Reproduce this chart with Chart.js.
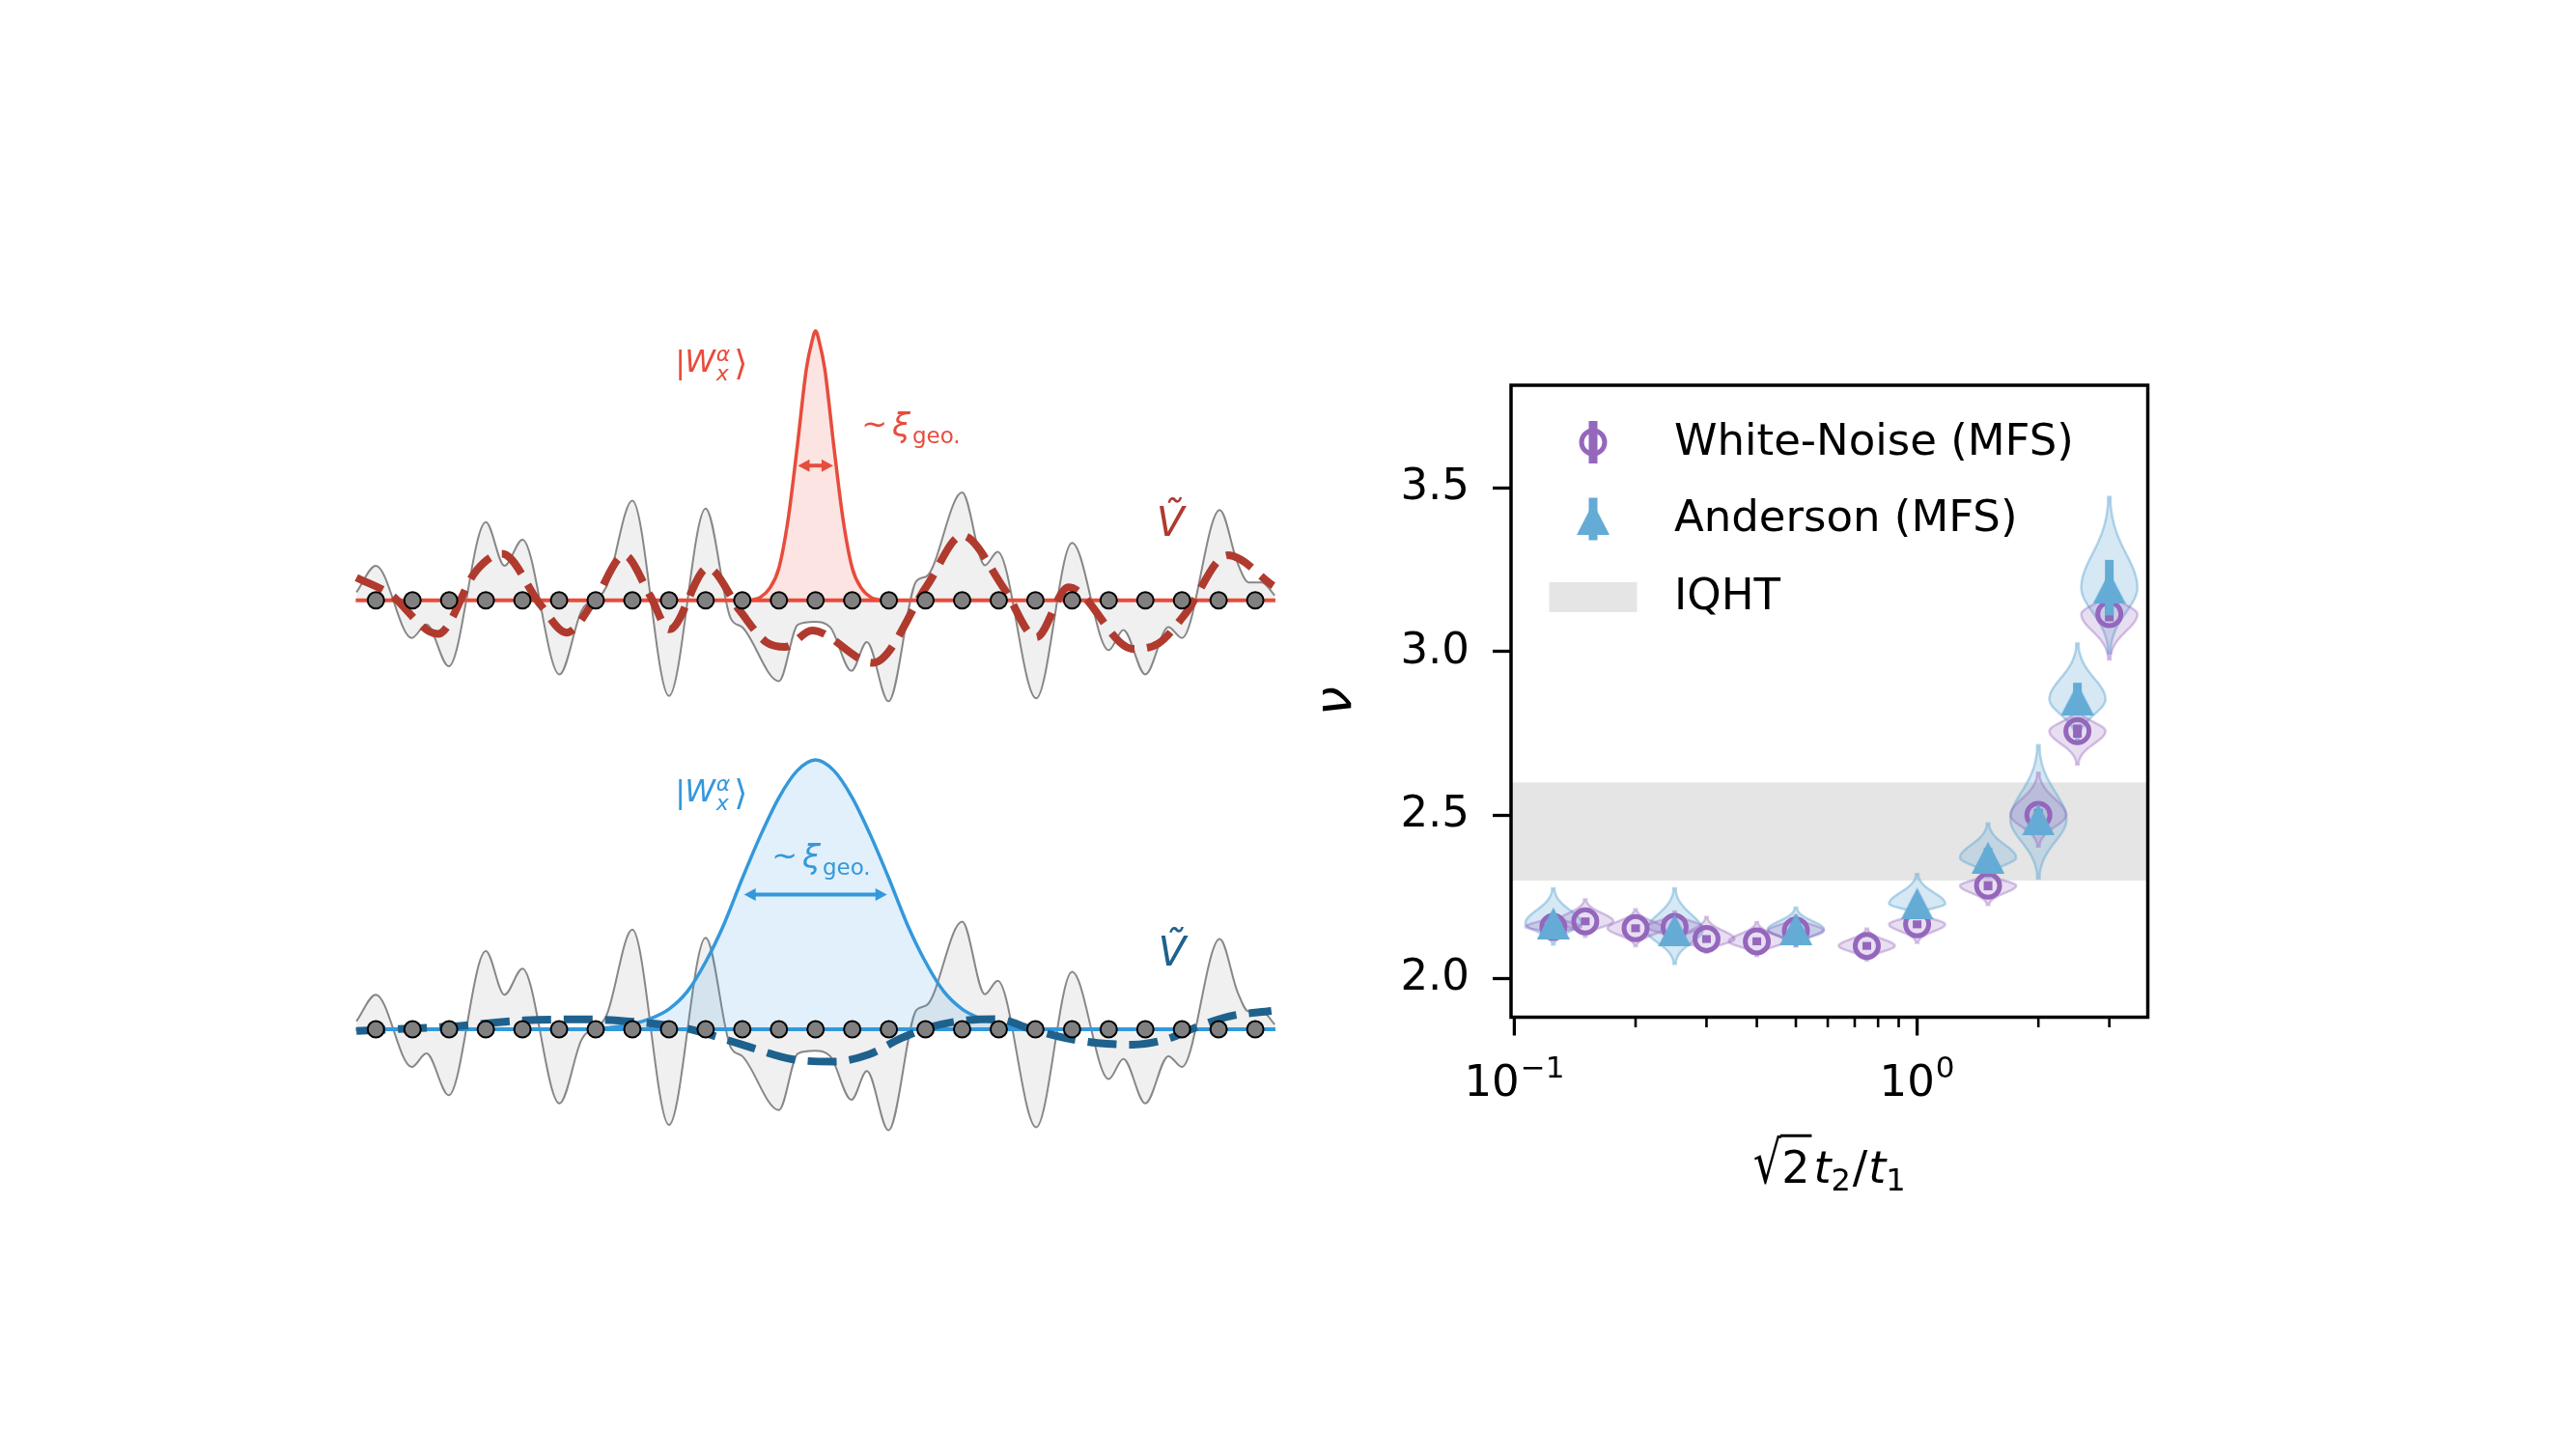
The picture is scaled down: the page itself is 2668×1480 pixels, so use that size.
<!DOCTYPE html>
<html><head><meta charset="utf-8">
<script src="https://cdn.jsdelivr.net/npm/chart.js"></script>
<style>
html,body{margin:0;padding:0;background:#fff;}
body{width:2668px;height:1480px;position:relative;overflow:hidden;}
canvas{position:absolute;}
</style></head><body>
<canvas id="panelTop" width="964" height="474" style="left:363px;top:301px;width:964px;height:474px"></canvas>
<canvas id="panelBot" width="964" height="474" style="left:363px;top:745px;width:964px;height:474px"></canvas>
<canvas id="main" width="1000" height="950" style="left:1300px;top:330px;width:1000px;height:950px"></canvas>
<script>
// ---------------- data: left schematic panels ----------------
const siteIdx = [0,1,2,3,4,5,6,7,8,9,10,11,12,13,14,15,16,17,18,19,20,21,22,23,24];
const potX = [-0.53,0.0,0.98,1.38,1.99,3.0,3.51,4.0,5.01,5.61,6.29,7.0,8.0,9.0,9.68,10.0,11.0,11.52,11.98,12.4,12.98,13.4,13.99,14.75,15.04,16.0,16.62,16.97,18.02,19.0,20.0,20.4,21.0,21.63,22.0,23.03,23.52,23.82,24.18,24.53];
const potY = [0.03,0.128,-0.14,-0.09,-0.245,0.29,0.128,0.225,-0.275,-0.04,0.05,0.37,-0.355,0.34,-0.066,-0.10,-0.30,-0.09,-0.08,-0.10,-0.262,-0.155,-0.375,0.071,0.09,0.40,0.13,0.18,-0.364,0.213,-0.185,-0.11,-0.275,-0.10,-0.14,0.335,0.137,0.066,0.066,0.018];
const wRedX = [10.25,10.5,10.75,11.0,11.25,11.5,11.75,11.9,12.0,12.1,12.25,12.5,12.75,13.0,13.25,13.5,13.75];
const wRedY = [0.0,0.012,0.045,0.12,0.3,0.57,0.86,0.96,1.0,0.96,0.86,0.57,0.3,0.12,0.045,0.012,0.0];
const wBlueX = [6.0,6.5,7.0,7.5,8.0,8.5,9.0,9.5,10.0,10.5,11.0,11.5,12.0,12.5,13.0,13.5,14.0,14.5,15.0,15.5,16.0,16.5,17.0,17.5,18.0];
const wBlueY = [0.0,0.008,0.02,0.04,0.075,0.14,0.25,0.39,0.56,0.72,0.86,0.96,1.0,0.96,0.86,0.72,0.56,0.39,0.25,0.14,0.075,0.04,0.02,0.008,0.0];
const vRedX = [-0.53,0.37,1.69,2.74,3.44,4.5,5.2,5.99,6.78,7.48,8.01,9.06,9.94,10.65,11.17,11.9,13.57,15.04,16.0,17.15,18.02,18.9,20.66,21.36,22.07,23.25,24.49];
const vRedY = [0.084,0.024,-0.125,0.11,0.173,-0.018,-0.12,0.006,0.167,0.018,-0.108,0.12,-0.04,-0.155,-0.173,-0.112,-0.232,0.054,0.24,0.042,-0.137,0.048,-0.18,-0.16,-0.054,0.167,0.054];
const vBlueX = [-0.53,2.0,4.05,5.74,7.09,8.45,9.97,11.35,12.49,13.46,14.34,15.13,16.01,16.97,17.85,18.82,19.7,20.66,21.53,22.41,23.29,24.44];
const vBlueY = [-0.006,0.01,0.033,0.037,0.027,0.004,-0.056,-0.111,-0.12,-0.093,-0.033,0.008,0.032,0.038,0.002,-0.033,-0.051,-0.057,-0.039,0.008,0.048,0.068];
const baseX = [-0.55, 24.55];
const baseY = [0, 0];
const xiRed = [11.52, 12.48];
const xiBlue = [10.05, 13.95];
const xiLevel = 0.5;

// ---------------- data: right panel ----------------
const ratioWhite = [0.125,0.15,0.2,0.25,0.3,0.4,0.5,0.75,1.0,1.5,2.0,2.5,3.0];
const nuWhite = [2.158,2.175,2.154,2.158,2.121,2.114,2.147,2.100,2.166,2.284,2.501,2.757,3.115];
const errWhite = [0.012,0.012,0.012,0.012,0.012,0.012,0.012,0.012,0.012,0.014,0.018,0.02,0.022];
const vioLoWhite = [2.136,2.128,2.099,2.115,2.079,2.069,2.099,2.055,2.109,2.225,2.404,2.655,2.976];
const vioHiWhite = [2.197,2.242,2.212,2.205,2.188,2.173,2.193,2.153,2.207,2.325,2.63,2.829,3.19];
const ratioAnd = [0.125,0.25,0.5,1.0,1.5,2.0,2.5,3.0];
const nuAnd = [2.169,2.148,2.151,2.229,2.370,2.486,2.855,3.196];
const errAnd = [0.015,0.02,0.015,0.02,0.03,0.03,0.05,0.085];
const vioLoAnd = [2.104,2.045,2.099,2.193,2.31,2.306,2.729,2.995];
const vioHiAnd = [2.276,2.276,2.217,2.32,2.475,2.714,3.025,3.473];
const iqhtRange = [2.3, 2.6];
const seriesNames = ['White-Noise (MFS)', 'Anderson (MFS)', 'IQHT'];
const xTicks = [0.1,0.2,0.3,0.4,0.5,0.6,0.7,0.8,0.9,1,2,3];
const xTickBase = {'0.1':'10', '1':'10'};
const xTickExp = {'0.1':'−1', '1':'0'};
const yTicks = [2.0,2.5,3.0,3.5];

// ---------------- styles ----------------
const FONT = 'DejaVu Sans';
const RED = '#e74c3c', RED_DARK = '#b03a2e', RED_FILL = 'rgba(231,76,60,0.15)';
const BLU = '#3498db', BLU_DARK = '#1f618d', BLU_FILL = 'rgba(52,152,219,0.15)';
const PURPLE = '#9467bd', BLUE = 'rgb(100,171,214)';
const PURPLE_FILL = 'rgba(148,103,189,0.22)', PURPLE_EDGE = 'rgba(148,103,189,0.38)';
const BLUE_FILL = 'rgba(107,174,214,0.28)', BLUE_EDGE = 'rgba(107,174,214,0.5)';
const BAND = '#e5e5e5';
Chart.defaults.font.family = FONT;

function pts(xs, ys){ return xs.map((x,i)=>({x:x, y:ys[i]})); }

// ---------------- left panels ----------------
function drawKet(ctx, x, y, color){
  ctx.fillStyle = color; ctx.textAlign = 'left'; ctx.textBaseline = 'alphabetic';
  ctx.font = '32px "'+FONT+'"'; ctx.fillText('|', x, y + 1);
  let cx = x + ctx.measureText('|').width - 1;
  ctx.font = 'italic 32px "'+FONT+'"'; ctx.fillText('W', cx, y);
  cx += ctx.measureText('W').width + 1;
  ctx.font = 'italic 22px "'+FONT+'"';
  ctx.fillText('α', cx, y - 11);
  const wa = ctx.measureText('α').width;
  ctx.fillText('x', cx, y + 9);
  const wx = ctx.measureText('x').width;
  cx += Math.max(wa, wx) + 4;
  ctx.font = '36px "'+FONT+'"'; ctx.fillText('⟩', cx, y + 3);
}
function drawXi(ctx, x, y, color){
  ctx.fillStyle = color; ctx.textAlign = 'left'; ctx.textBaseline = 'alphabetic';
  ctx.font = '32px "'+FONT+'"'; ctx.fillText('~', x, y - 2);
  let cx = x + ctx.measureText('~').width + 5;
  ctx.font = 'italic 34px "'+FONT+'"'; ctx.fillText('ξ', cx, y);
  cx += ctx.measureText('ξ').width + 2;
  ctx.font = '23px "'+FONT+'"'; ctx.fillText('geo.', cx, y + 7);
}
function drawArrow(ctx, x0, x1, y, color){
  const hl = 12, hw = 6.5;
  ctx.strokeStyle = color; ctx.fillStyle = color; ctx.lineWidth = 4;
  ctx.beginPath(); ctx.moveTo(x0 + hl - 2, y); ctx.lineTo(x1 - hl + 2, y); ctx.stroke();
  ctx.beginPath(); ctx.moveTo(x0, y); ctx.lineTo(x0 + hl, y - hw); ctx.lineTo(x0 + hl, y + hw); ctx.closePath(); ctx.fill();
  ctx.beginPath(); ctx.moveTo(x1, y); ctx.lineTo(x1 - hl, y - hw); ctx.lineTo(x1 - hl, y + hw); ctx.closePath(); ctx.fill();
}

function makePanel(id, c){
  const annot = {
    id: 'annot_' + id,
    afterDraw(chart){
      const ctx = chart.ctx, sx = chart.scales.x, sy = chart.scales.y;
      const X = v => sx.getPixelForValue(v), Y = v => sy.getPixelForValue(v);
      ctx.save();
      drawArrow(ctx, X(c.xi[0]), X(c.xi[1]), Y(xiLevel), c.color);
      drawKet(ctx, X(c.ket[0]), Y(c.ket[1]), c.color);
      drawXi(ctx, X(c.xiLab[0]), Y(c.xiLab[1]), c.color);
      ctx.fillStyle = c.dark; ctx.font = 'italic 42px "'+FONT+'"'; ctx.textBaseline = 'alphabetic';
      ctx.fillText('Ṽ', X(c.vLab[0]), Y(c.vLab[1]));
      ctx.restore();
    }
  };
  return new Chart(document.getElementById(id), {
    type: 'line',
    data: { datasets: [
      { data: pts(siteIdx, siteIdx.map(()=>0)), showLine: false, pointRadius: 8.5, pointBackgroundColor: '#808080', pointBorderColor: '#000', pointBorderWidth: 2 },
      { data: pts(c.vX, c.vY), borderColor: c.dark, borderWidth: 8, borderDash: [30, 13], borderCapStyle: 'butt', pointRadius: 0, cubicInterpolationMode: 'monotone', fill: false },
      { data: pts(c.wX, c.wY), borderColor: c.color, borderWidth: 3.5, backgroundColor: c.fill, fill: 'origin', pointRadius: 0, cubicInterpolationMode: 'monotone' },
      { data: pts(baseX, baseY), borderColor: c.color, borderWidth: 4, pointRadius: 0, fill: false },
      { data: pts(potX, potY), borderColor: '#878787', borderWidth: 2, backgroundColor: '#f0f0f0', fill: 'origin', pointRadius: 0, cubicInterpolationMode: 'monotone' }
    ]},
    options: {
      responsive: false, animation: false, devicePixelRatio: 1, events: [],
      layout: { padding: 0, autoPadding: false },
      plugins: { legend: { display: false }, tooltip: { enabled: false } },
      scales: {
        x: { type: 'linear', display: false, min: -0.693, max: 24.709 },
        y: { type: 'linear', display: false, min: c.yMin, max: c.yMax }
      }
    },
    plugins: [annot]
  });
}

makePanel('panelTop', { color: RED, dark: RED_DARK, fill: RED_FILL, wX: wRedX, wY: wRedY, vX: vRedX, vY: vRedY,
  xi: xiRed, ket: [8.17, 0.848], xiLab: [13.25, 0.608], vLab: [21.3, 0.239], yMin: -0.5495, yMax: 1.1495 });
makePanel('panelBot', { color: BLU, dark: BLU_DARK, fill: BLU_FILL, wX: wBlueX, wY: wBlueY, vX: vBlueX, vY: vBlueY,
  xi: xiBlue, ket: [8.17, 0.845], xiLab: [10.8, 0.598], vLab: [21.35, 0.237], yMin: -0.5484, yMax: 1.1505 });

// ---------------- right panel ----------------
const triImg = (() => {
  const cv = document.createElement('canvas'); cv.width = 34; cv.height = 33;
  const g = cv.getContext('2d'); g.fillStyle = BLUE;
  g.beginPath(); g.moveTo(17, 0); g.lineTo(34, 33); g.lineTo(0, 33); g.closePath(); g.fill();
  return cv;
})();

const VIOLIN_HALF = 29, VIOLIN_TAIL = 1.3, VIOLIN_SIG = 2.7;
function drawViolins(ctx, sx, sy, X, M, LO, HI, fill, edge){
  for (let i = 0; i < X.length; i++){
    const cx = sx.getPixelForValue(X[i]);
    const m = M[i], lo = LO[i], hi = HI[i];
    const sLo = (m - lo) / VIOLIN_SIG, sHi = (hi - m) / VIOLIN_SIG;
    const N = 60, prof = [];
    for (let k = 0; k <= N; k++){
      const v = lo + (hi - lo) * k / N;
      const s = v < m ? sLo : sHi;
      const w = Math.max(VIOLIN_TAIL, VIOLIN_HALF * Math.exp(-0.5 * Math.pow((v - m) / s, 2)));
      prof.push([sy.getPixelForValue(v), w]);
    }
    ctx.beginPath();
    prof.forEach(([py, w], k) => { if (k === 0) ctx.moveTo(cx + w, py); else ctx.lineTo(cx + w, py); });
    for (let k = prof.length - 1; k >= 0; k--) ctx.lineTo(cx - prof[k][1], prof[k][0]);
    ctx.closePath();
    ctx.fillStyle = fill; ctx.fill();
    ctx.strokeStyle = edge; ctx.lineWidth = 2.5; ctx.stroke();
  }
}
function drawErr(ctx, sx, sy, X, M, E, color){
  ctx.save(); ctx.strokeStyle = color; ctx.lineWidth = 9; ctx.lineCap = 'butt';
  for (let i = 0; i < X.length; i++){
    const px = sx.getPixelForValue(X[i]);
    ctx.beginPath(); ctx.moveTo(px, sy.getPixelForValue(M[i] - E[i])); ctx.lineTo(px, sy.getPixelForValue(M[i] + E[i])); ctx.stroke();
  }
  ctx.restore();
}
function drawXTitle(ctx, cx, by){
  const f = 46;
  const up = f + 'px "' + FONT + '"', it = 'italic ' + f + 'px "' + FONT + '"', sub = Math.round(f * 0.7) + 'px "' + FONT + '"';
  const seq = [['√', up, 0, 0], ['2', up, 0, 4], ['t', it, 0, 0], ['2', sub, 8, 2], ['/', up, 0, 1], ['t', it, 0, 0], ['1', sub, 8, 0]];
  ctx.save(); ctx.fillStyle = '#000'; ctx.strokeStyle = '#000'; ctx.textAlign = 'left'; ctx.textBaseline = 'alphabetic';
  const widths = []; let total = 0;
  seq.forEach(([s, font, dy, gap]) => { ctx.font = font; const w = ctx.measureText(s).width; widths.push(w); total += w + gap; });
  let x = cx - total / 2; let sqrtTop = 0, sqrtRight = 0, twoRight = 0;
  seq.forEach(([s, font, dy, gap], i) => {
    ctx.font = font;
    if (i === 0){
      const m = ctx.measureText(s);
      ctx.save(); ctx.translate(x, by); ctx.scale(1, 1.32); ctx.fillText(s, 0, 0); ctx.restore();
      sqrtTop = by - m.actualBoundingBoxAscent * 1.32; sqrtRight = x + m.actualBoundingBoxRight;
    } else {
      ctx.fillText(s, x, by + dy);
    }
    if (i === 1) twoRight = x + widths[i] + 2;
    x += widths[i] + gap;
  });
  ctx.lineWidth = 3; ctx.beginPath(); ctx.moveTo(sqrtRight - 2, sqrtTop + 1.5); ctx.lineTo(twoRight, sqrtTop + 1.5); ctx.stroke();
  ctx.restore();
}
function drawXTickLabels(ctx, sx, baseY){
  ctx.save(); ctx.fillStyle = '#000'; ctx.textAlign = 'left'; ctx.textBaseline = 'alphabetic';
  xTicks.forEach(v => {
    const key = String(v);
    if (!xTickBase[key]) return;
    const px = sx.getPixelForValue(v);
    ctx.font = '45px "' + FONT + '"'; const wb = ctx.measureText(xTickBase[key]).width;
    ctx.font = '31px "' + FONT + '"'; const we = ctx.measureText(xTickExp[key]).width;
    const x0 = px - (wb + 1 + we) / 2;
    ctx.font = '45px "' + FONT + '"'; ctx.fillText(xTickBase[key], x0, baseY);
    ctx.font = '31px "' + FONT + '"'; ctx.fillText(xTickExp[key], x0 + wb + 1, baseY - 19);
  });
  ctx.restore();
}

const mainDecor = {
  id: 'mainDecor',
  beforeDatasetsDraw(chart){
    const ctx = chart.ctx, a = chart.chartArea, sx = chart.scales.x, sy = chart.scales.y;
    ctx.save();
    const yt = sy.getPixelForValue(iqhtRange[1]), yb = sy.getPixelForValue(iqhtRange[0]);
    ctx.fillStyle = BAND; ctx.fillRect(a.left, yt, a.right - a.left, yb - yt);
    drawViolins(ctx, sx, sy, ratioAnd, nuAnd, vioLoAnd, vioHiAnd, BLUE_FILL, BLUE_EDGE);
    drawViolins(ctx, sx, sy, ratioWhite, nuWhite, vioLoWhite, vioHiWhite, PURPLE_FILL, PURPLE_EDGE);
    ctx.restore();
  },
  beforeDatasetDraw(chart, args){
    const ctx = chart.ctx, sx = chart.scales.x, sy = chart.scales.y;
    if (args.index === 0) drawErr(ctx, sx, sy, ratioWhite, nuWhite, errWhite, PURPLE);
    else drawErr(ctx, sx, sy, ratioAnd, nuAnd, errAnd, BLUE);
  },
  afterDraw(chart){
    const ctx = chart.ctx, a = chart.chartArea, sx = chart.scales.x;
    ctx.save();
    ctx.strokeStyle = '#000'; ctx.lineWidth = 3.5;
    ctx.strokeRect(a.left, a.top, a.right - a.left, a.bottom - a.top);
    xTicks.forEach(v => {
      const px = sx.getPixelForValue(v);
      const lg = Math.log10(v), major = Math.abs(lg - Math.round(lg)) < 1e-9;
      ctx.lineWidth = major ? 3.3 : 2.6;
      ctx.beginPath(); ctx.moveTo(px, a.bottom); ctx.lineTo(px, a.bottom + (major ? 19 : 10.5)); ctx.stroke();
    });
    drawXTickLabels(ctx, sx, 805);
    drawXTitle(ctx, (a.left + a.right) / 2, 895);
    const lx = a.left + 85, tx = a.left + 169;
    const rows = [a.top + 59, a.top + 138.5, a.top + 219.5];
    ctx.lineCap = 'butt';
    ctx.strokeStyle = PURPLE; ctx.lineWidth = 9;
    ctx.beginPath(); ctx.moveTo(lx, rows[0] - 22); ctx.lineTo(lx, rows[0] + 22); ctx.stroke();
    ctx.lineWidth = 5; ctx.beginPath(); ctx.arc(lx, rows[0], 12, 0, Math.PI * 2); ctx.stroke();
    ctx.strokeStyle = BLUE; ctx.lineWidth = 9;
    ctx.beginPath(); ctx.moveTo(lx, rows[1] - 22); ctx.lineTo(lx, rows[1] + 22); ctx.stroke();
    ctx.drawImage(triImg, lx - 17, rows[1] - 16.5);
    ctx.fillStyle = BAND; ctx.fillRect(lx - 45.5, rows[2] - 15.5, 91, 31);
    ctx.fillStyle = '#000'; ctx.font = '45px "' + FONT + '"'; ctx.textAlign = 'left'; ctx.textBaseline = 'middle';
    seriesNames.forEach((s, i) => ctx.fillText(s, tx, rows[i] + 1));
    ctx.restore();
  }
};

new Chart(document.getElementById('main'), {
  type: 'scatter',
  data: { datasets: [
    { label: seriesNames[0], data: pts(ratioWhite, nuWhite), pointStyle: 'circle', pointRadius: 12, pointBorderWidth: 5,
      pointBorderColor: PURPLE, pointBackgroundColor: 'rgba(0,0,0,0)', order: 2 },
    { label: seriesNames[1], data: pts(ratioAnd, nuAnd), pointStyle: triImg, pointRadius: 17, order: 1 }
  ]},
  options: {
    responsive: false, animation: false, devicePixelRatio: 1, events: [],
    layout: { padding: { left: 0, top: 69, right: 75.5, bottom: 0 }, autoPadding: false },
    plugins: { legend: { display: false }, tooltip: { enabled: false } },
    scales: {
      x: { type: 'logarithmic', position: 'bottom', min: 0.09814, max: 3.738,
        afterFit: s => { s.height = 226.5; },
        afterBuildTicks: s => { s.ticks = xTicks.map(v => ({ value: v })); },
        grid: { display: false, drawTicks: false }, border: { display: false },
        ticks: { display: false, autoSkip: false, maxRotation: 0, minRotation: 0 } },
      y: { type: 'linear', position: 'left', min: 1.8818, max: 3.8153,
        afterFit: s => { s.width = 265; },
        afterBuildTicks: s => { s.ticks = yTicks.map(v => ({ value: v })); },
        grid: { display: true, drawOnChartArea: false, drawTicks: true, tickLength: 19, tickWidth: 3.3, tickColor: '#000' },
        border: { display: false },
        ticks: { padding: 24, color: '#000', font: { size: 45, family: FONT }, callback: v => Number(v).toFixed(1) },
        title: { display: true, text: 'ν', color: '#000', font: { size: 54, style: 'italic', family: FONT }, padding: { top: 53, bottom: 0 } } }
    }
  },
  plugins: [mainDecor]
});
</script>
</body></html>
